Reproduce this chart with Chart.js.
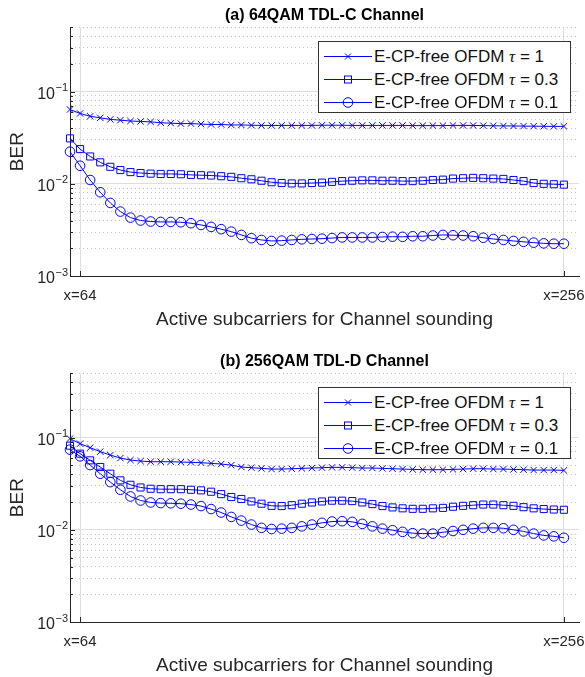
<!DOCTYPE html>
<html>
<head>
<meta charset="utf-8">
<script src="https://cdn.jsdelivr.net/npm/chart.js@4.4.1/dist/chart.umd.min.js"></script>
<style>
  body { margin: 0; background: #fff; }
  #page { position: relative; width: 585px; height: 677px; overflow: hidden; font-family: "Liberation Sans", Arial, sans-serif; }
  .panel { position: absolute; left: 0; width: 585px; height: 331px; }
  .legend { position: absolute; left: 318px; top: 41px; width: 253px; height: 72px; box-sizing: border-box;
            border: 1px solid #333; background: #fff; color: #111; font-size: 17px; }
  .legend .row { position: absolute; left: 0; width: 250px; height: 23px; line-height: 23px; white-space: nowrap; }
  .legend svg { position: absolute; left: 4px; top: 0; }
  .legend span { position: absolute; left: 55px; top: 0; }
  .legend i { font-family: "Liberation Serif", "DejaVu Serif", serif; }
</style>
</head>
<body>
<div id="page">
  <div class="panel" style="top:0px"><canvas id="chartA"></canvas><div class="legend" id="legendA"></div></div>
  <div class="panel" style="top:346px"><canvas id="chartB"></canvas><div class="legend" id="legendB"></div></div>
</div>
<script>
// x positions (active subcarriers)
const xValues = [60, 64, 68, 72, 76, 80, 84, 88, 92, 96, 100, 104, 108, 112, 116, 120, 124, 128, 132, 136,
                 140, 144, 148, 152, 156, 160, 164, 168, 172, 176, 180, 184, 188, 192, 196, 200, 204, 208, 212, 216,
                 220, 224, 228, 232, 236, 240, 244, 248, 252, 256];
const xTickValues = [64, 256];
const yTickValues = [0.001, 0.002, 0.003, 0.004, 0.005, 0.006, 0.007, 0.008, 0.009,
                     0.01, 0.02, 0.03, 0.04, 0.05, 0.06, 0.07, 0.08, 0.09,
                     0.1, 0.2, 0.3, 0.4, 0.5];
const yDecades = [0.001, 0.01, 0.1];
const yDecadeExps = ['\u22123', '\u22122', '\u22121'];

const tauValues = ['1', '0.3', '0.1'];
const pointStyles = ['crossRot', 'rect', 'circle'];
const pointRadii = [4.5, 5, 4.8];

// (a) 64QAM TDL-C
const berA_tau1 = [0.064, 0.058, 0.054, 0.052, 0.050, 0.049, 0.048, 0.0475, 0.047, 0.046,
                   0.0455, 0.045, 0.045, 0.0445, 0.044, 0.044, 0.0435, 0.0435, 0.0432, 0.043,
                   0.043, 0.043, 0.043, 0.043, 0.043, 0.0432, 0.0432, 0.0432, 0.043, 0.043,
                   0.043, 0.043, 0.043, 0.043, 0.0428, 0.0428, 0.0428, 0.0428, 0.043, 0.043,
                   0.043, 0.0428, 0.0426, 0.0425, 0.0424, 0.0423, 0.0422, 0.0421, 0.042, 0.042];
const berA_tau03 = [0.0311, 0.0238, 0.0198, 0.0171, 0.0153, 0.0141, 0.0134, 0.0131, 0.0129, 0.0128,
                    0.0128, 0.0127, 0.0125, 0.0124, 0.0123, 0.0121, 0.0119, 0.0115, 0.0112, 0.0108,
                    0.0104, 0.0102, 0.0101, 0.0101, 0.0102, 0.0103, 0.0105, 0.0107, 0.0108, 0.0109,
                    0.0109, 0.0108, 0.0108, 0.0107, 0.0107, 0.0108, 0.0110, 0.0111, 0.0114, 0.0115,
                    0.0116, 0.0115, 0.0114, 0.0113, 0.0110, 0.0107, 0.0102, 0.0100, 0.0099, 0.0098];
const berA_tau01 = [0.0223, 0.0157, 0.0110, 0.0081, 0.0062, 0.0050, 0.0043, 0.0040, 0.0039, 0.00386,
                    0.00386, 0.00383, 0.00374, 0.00358, 0.00341, 0.00322, 0.00303, 0.00279, 0.00257, 0.00246,
                    0.0024, 0.00242, 0.00246, 0.0025, 0.00252, 0.00254, 0.00258, 0.00262, 0.00262, 0.00262,
                    0.00262, 0.00265, 0.00267, 0.00266, 0.0027, 0.0027, 0.00275, 0.00279, 0.00277, 0.00275,
                    0.0027, 0.0026, 0.00252, 0.00246, 0.0024, 0.00235, 0.0023, 0.00226, 0.00224, 0.00224];

// (b) 256QAM TDL-D
const berB_tau1 = [0.0976, 0.086, 0.0778, 0.0705, 0.0647, 0.060, 0.0571, 0.0557, 0.0548, 0.0548,
                   0.0548, 0.0543, 0.054, 0.0535, 0.0526, 0.0517, 0.0503, 0.048, 0.0472, 0.0464,
                   0.0456, 0.0456, 0.046, 0.0464, 0.0468, 0.0472, 0.0476, 0.0476, 0.0472, 0.0468,
                   0.0468, 0.0464, 0.046, 0.0456, 0.0452, 0.0449, 0.0449, 0.0449, 0.0452, 0.0456,
                   0.046, 0.046, 0.0456, 0.0456, 0.0452, 0.0449, 0.0445, 0.0445, 0.0445, 0.0441];
const berB_tau03 = [0.0818, 0.067, 0.0567, 0.048, 0.0406, 0.0344, 0.0308, 0.0288, 0.0279, 0.0276,
                    0.0276, 0.0276, 0.0272, 0.0268, 0.0259, 0.0244, 0.0227, 0.0216, 0.0203, 0.0192,
                    0.0182, 0.0181, 0.0185, 0.0192, 0.0198, 0.0203, 0.0207, 0.0207, 0.0205, 0.0198,
                    0.0190, 0.0181, 0.0175, 0.0171, 0.0169, 0.0169, 0.0171, 0.0173, 0.0178, 0.0182,
                    0.0185, 0.0188, 0.0188, 0.0185, 0.0182, 0.0176, 0.0171, 0.0168, 0.0166, 0.0165];
const berB_tau01 = [0.0741, 0.0627, 0.0504, 0.0406, 0.0329, 0.0272, 0.0230, 0.0208, 0.0198, 0.0195,
                    0.0194, 0.0192, 0.0188, 0.0181, 0.0168, 0.0154, 0.0138, 0.0126, 0.0114, 0.0105,
                    0.0102, 0.0103, 0.0105, 0.0109, 0.0114, 0.0119, 0.0123, 0.0124, 0.0122, 0.0116,
                    0.0109, 0.0103, 0.0099, 0.0095, 0.0092, 0.0091, 0.0091, 0.0094, 0.0097, 0.0100,
                    0.0103, 0.0105, 0.0105, 0.0104, 0.0100, 0.0096, 0.0091, 0.0087, 0.0085, 0.0082];

const blue = 'rgb(0,0,255)';
const axisColor = '#262626';
const fontFamily = '"Liberation Sans", Arial, sans-serif';

function isDecade(v) {
    const l = Math.log10(v);
    return Math.abs(l - Math.round(l)) < 1e-9;
}

// MATLAB-like inward ticks and 10^n labels
const axisDecor = {
    id: 'axisDecor',
    afterDraw(chart) {
        const { ctx, chartArea, scales: { x, y } } = chart;
        ctx.save();
        ctx.strokeStyle = axisColor;
        ctx.lineWidth = 1;
        ctx.beginPath();
        yTickValues.forEach(v => {
            const py = Math.round(y.getPixelForValue(v)) + 0.5;
            const len = isDecade(v) ? 5 : 3;
            ctx.moveTo(chartArea.left, py);
            ctx.lineTo(chartArea.left + len, py);
        });
        xTickValues.forEach(v => {
            const px = Math.round(x.getPixelForValue(v)) + 0.5;
            ctx.moveTo(px, chartArea.bottom);
            ctx.lineTo(px, chartArea.bottom - 5);
        });
        ctx.stroke();

        ctx.fillStyle = axisColor;
        ctx.textBaseline = 'middle';
        yDecades.forEach((v, i) => {
            const py = y.getPixelForValue(v);
            ctx.font = '16px ' + fontFamily;
            ctx.textAlign = 'right';
            ctx.fillText('10', 55, py + 2.5);
            ctx.font = '11px ' + fontFamily;
            ctx.textAlign = 'left';
            ctx.fillText(yDecadeExps[i], 55.5, py - 3.5);
        });
        ctx.restore();
    }
};

function markerSvg(style) {
    let m = '';
    if (style === 'crossRot') {
        m = '<path d="M22,8.5 L28,14.5 M28,8.5 L22,14.5" stroke="' + blue + '" stroke-width="1" fill="none"/>';
    } else if (style === 'rect') {
        m = '<rect x="21.5" y="8" width="7" height="7" stroke="' + blue + '" stroke-width="1" fill="none"/>';
    } else {
        m = '<circle cx="25" cy="11.5" r="4.8" stroke="' + blue + '" stroke-width="1" fill="none"/>';
    }
    return '<svg width="50" height="23" viewBox="0 0 50 23">' +
        '<line x1="1" y1="11.5" x2="49" y2="11.5" stroke="' + blue + '" stroke-width="1"/>' + m + '</svg>';
}

function buildLegend(legendId) {
    const box = document.getElementById(legendId);
    box.innerHTML = tauValues.map((tau, k) =>
        '<div class="row" style="top:' + (2.5 + 23 * k) + 'px">' + markerSvg(pointStyles[k]) +
        '<span>E-CP-free OFDM <i>\u03c4</i> = ' + tau + '</span></div>').join('');
}

function buildChart(canvasId, legendId, titleText, seriesList) {
    const datasets = seriesList.map((values, k) => ({
        label: 'E-CP-free OFDM \u03c4 = ' + tauValues[k],
        data: xValues.map((x, i) => ({ x: x, y: values[i] })),
        borderColor: blue,
        borderWidth: 1,
        backgroundColor: 'transparent',
        pointStyle: pointStyles[k],
        pointRadius: pointRadii[k],
        pointBorderWidth: 1,
        pointBorderColor: blue,
        pointBackgroundColor: 'transparent',
        tension: 0,
        clip: false
    }));

    const ctx = document.getElementById(canvasId).getContext('2d');
    new Chart(ctx, {
        type: 'line',
        data: { datasets: datasets },
        options: {
            responsive: true,
            maintainAspectRatio: false,
            animation: false,
            layout: { padding: { top: 6, right: 0, left: 0, bottom: 0 } },
            plugins: {
                legend: { display: false },
                tooltip: { enabled: false },
                title: {
                    display: true,
                    text: titleText,
                    fullSize: false,
                    color: '#000',
                    font: { family: fontFamily, size: 16, weight: 'bold' },
                    padding: { top: 0, bottom: 2 }
                }
            },
            scales: {
                x: {
                    type: 'linear',
                    min: 60,
                    max: 262,
                    afterBuildTicks: axis => { axis.ticks = xTickValues.map(v => ({ value: v })); },
                    afterFit: axis => { axis.paddingLeft = 0; axis.paddingRight = 0; axis.height = 55; },
                    ticks: {
                        autoSkip: false,
                        maxRotation: 0,
                        padding: 11,
                        color: axisColor,
                        font: { family: fontFamily, size: 15 },
                        callback: value => 'x=' + value
                    },
                    grid: { color: '#dedede', drawTicks: false },
                    border: { color: axisColor },
                    title: {
                        display: true,
                        text: 'Active subcarriers for Channel sounding',
                        color: axisColor,
                        font: { family: fontFamily, size: 19 },
                        padding: { top: 0, bottom: 0 }
                    }
                },
                y: {
                    type: 'logarithmic',
                    min: 0.001,
                    max: 0.5,
                    afterBuildTicks: axis => { axis.ticks = yTickValues.map(v => ({ value: v })); },
                    afterFit: axis => { axis.width = 70; },
                    ticks: { display: false },
                    grid: {
                        drawTicks: false,
                        color: c => (c.tick && isDecade(c.tick.value)) ? '#dedede' : '#c4c4c4'
                    },
                    border: {
                        color: axisColor,
                        dash: c => (c.tick && !isDecade(c.tick.value)) ? [1, 3] : []
                    },
                    title: {
                        display: true,
                        text: 'BER',
                        color: axisColor,
                        font: { family: fontFamily, size: 19 },
                        padding: { top: 6, bottom: 0 }
                    }
                }
            }
        },
        plugins: [axisDecor]
    });
    buildLegend(legendId);
}

buildChart('chartA', 'legendA', '(a) 64QAM TDL-C Channel', [berA_tau1, berA_tau03, berA_tau01]);
buildChart('chartB', 'legendB', '(b) 256QAM TDL-D Channel', [berB_tau1, berB_tau03, berB_tau01]);
</script>
</body>
</html>
